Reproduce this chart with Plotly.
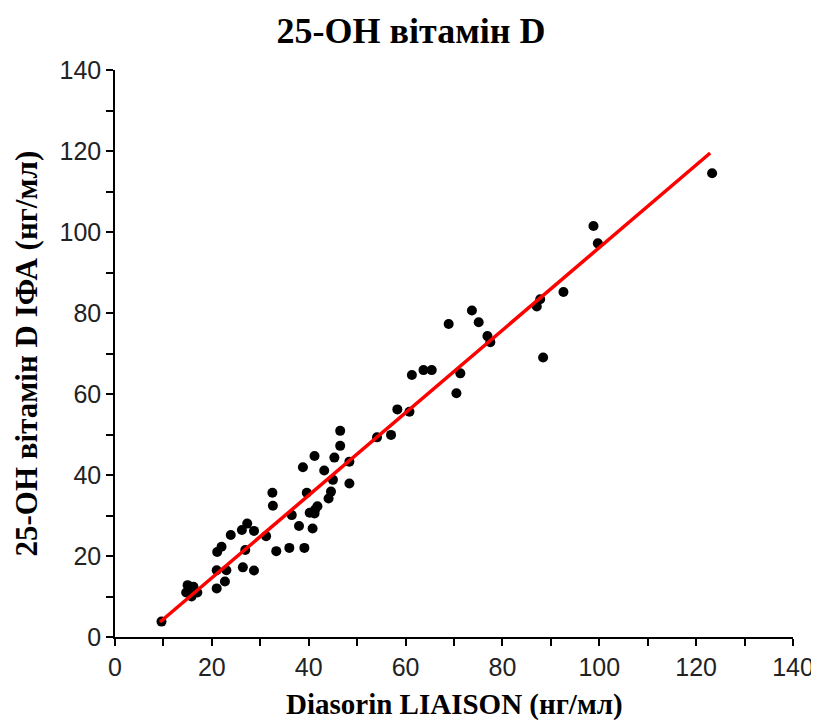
import plotly.graph_objects as go

liaison_x = [9.6, 14.7, 15.5, 16.2, 15.8, 17.0, 15.0, 21.0, 22.7, 21.0, 23.0, 21.1, 22.0, 23.9,
             26.2, 27.3, 28.7, 26.4, 28.7, 26.9, 31.2, 32.5, 32.6, 33.3, 36.0, 39.1, 36.5, 38.0,
             39.6, 40.2, 40.8, 41.3, 41.8, 41.2, 44.1, 44.6, 45.0, 43.2, 38.8, 41.2, 45.3, 46.5,
             46.5, 48.4, 48.4, 54.1, 57.0, 58.3, 60.8, 61.3, 63.7, 65.4, 70.5, 71.3, 68.9, 73.7,
             75.1, 76.9, 77.5, 88.4, 87.1, 87.8, 92.6, 99.7, 98.8, 123.3]
ifa_y = [3.8, 11.0, 11.6, 12.4, 10.0, 11.0, 12.8, 12.0, 13.7, 16.5, 16.5, 21.0, 22.3, 25.2,
         26.4, 28.0, 26.2, 17.2, 16.4, 21.5, 24.9, 35.6, 32.4, 21.2, 22.0, 22.0, 30.1, 27.4,
         35.6, 30.7, 26.8, 31.4, 32.3, 30.5, 34.2, 35.9, 38.8, 41.1, 41.9, 44.7, 44.3, 47.2,
         50.9, 43.3, 37.9, 49.3, 49.9, 56.2, 55.6, 64.7, 65.9, 65.9, 60.2, 65.1, 77.3, 80.6,
         77.7, 74.3, 72.8, 69.0, 81.6, 83.4, 85.2, 97.2, 101.5, 114.5]

fit_x = [9.3, 122.9]
fit_y = [3.7, 119.5]

tick_vals = [0, 20, 40, 60, 80, 100, 120, 140]
tick_text = ["0", "20", "40", "60", "80", "100", "120", "140"]

fig = go.Figure()
fig.add_trace(go.Scatter(x=liaison_x, y=ifa_y, mode="markers",
                         marker=dict(color="black", size=10), showlegend=False))
fig.add_trace(go.Scatter(x=fit_x, y=fit_y, mode="lines",
                         line=dict(color="#ff0000", width=3.5), showlegend=False))

serif = "Liberation Serif, Times New Roman, serif"
sans = "Liberation Sans, Arial, sans-serif"

axis_common = dict(
    range=[0, 140], tickvals=tick_vals, ticktext=tick_text,
    ticks="outside", ticklen=7, tickwidth=1.5, tickcolor="black",
    showline=True, linecolor="black", linewidth=1.5,
    showgrid=False, zeroline=False, automargin=False,
    tickfont=dict(family=sans, size=25, color="#222222"),
    minor=dict(dtick=10, ticks="outside", ticklen=7, tickwidth=1.5, tickcolor="black", showgrid=False),
)

# the page body adds an 8px offset, so the figure is 8px smaller than the window
W, H = 811, 716

fig.update_layout(
    width=W, height=H,
    paper_bgcolor="white", plot_bgcolor="white",
    margin=dict(l=107, r=26, t=62, b=87),
    title=dict(text="<b>25-OH вітамін D</b>", x=403 / W, xref="container", xanchor="center",
               y=1 - 22 / H, yref="container", yanchor="middle",
               font=dict(family=serif, size=36, color="black")),
    xaxis=dict(**axis_common),
    yaxis=dict(**axis_common),
    annotations=[
        dict(text="<b>Diasorin LIAISON (нг/мл)</b>", xref="paper", yref="paper",
             x=0.5, y=0, xanchor="center", yanchor="middle", yshift=-67, showarrow=False,
             font=dict(family=serif, size=29, color="black")),
        dict(text="<b>25-OH вітамін D IФА (нг/мл)</b>", xref="paper", yref="paper",
             x=0, y=0.5, xanchor="center", yanchor="middle", xshift=-89, textangle=-90,
             showarrow=False, font=dict(family=serif, size=31, color="black")),
    ],
)

fig.write_html("out.html")
